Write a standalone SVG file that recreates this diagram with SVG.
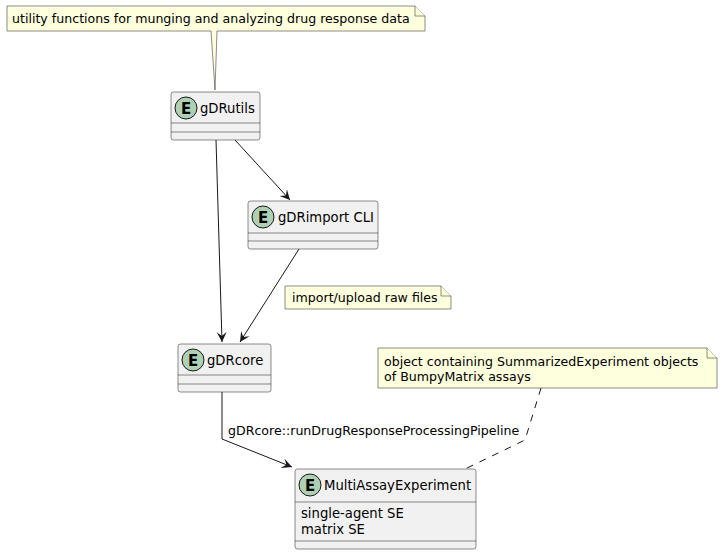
<svg xmlns="http://www.w3.org/2000/svg" width="723" height="555" viewBox="0 0 723 555">
<defs>
<style>
.cls{fill:#F1F1F1;stroke:#181818;stroke-width:0.5;}
.sep{stroke:#181818;stroke-width:0.5;}
.circ{fill:#ADD1B2;stroke:#181818;stroke-width:1;}
.e{font-family:"DejaVu Sans",sans-serif;font-size:15px;font-weight:bold;fill:#000;}
.name{font-family:"DejaVu Sans",sans-serif;font-size:13.2px;fill:#000;}
.note{fill:#FEFFDD;stroke:#181818;stroke-width:0.5;}
.nt{font-family:"DejaVu Sans",sans-serif;font-size:12.6px;fill:#000;}
.lbl{font-family:"DejaVu Sans",sans-serif;font-size:12.6px;fill:#000;}
.link{fill:none;stroke:#181818;stroke-width:1;}
.dash{fill:none;stroke:#181818;stroke-width:1;stroke-dasharray:7,7;}
</style>
<marker id="arr" viewBox="0 0 12 12" markerWidth="12" markerHeight="12" refX="10" refY="6" orient="auto" markerUnits="userSpaceOnUse">
<path d="M0,1 L10,6 L0,11 L4,6 Z" fill="#181818"/>
</marker>
</defs>

<g id="note-utils">
<path class="note" d="M7,6 L415,6 L425,16 L425,31 L217,31 L215,90 L211,31 L7,31 Z"/>
<path class="note" d="M415,6 L415,16 L425,16"/>
<text class="nt" x="12" y="23">utility functions for munging and analyzing drug response data</text>
</g>

<g id="connectors">
<line class="link" x1="216" y1="140" x2="222" y2="342" marker-end="url(#arr)"/>
<line class="link" x1="235" y1="140" x2="290" y2="200" marker-end="url(#arr)"/>
<line class="link" x1="299" y1="249" x2="240" y2="342" marker-end="url(#arr)"/>
<polyline class="link" points="222,392 222,439 292,467" marker-end="url(#arr)"/>
<text class="lbl" x="228" y="435">gDRcore::runDrugResponseProcessingPipeline</text>
<polyline class="dash" points="541,388 525,440 465,469"/>
</g>

<g id="gDRutils">
<rect class="cls" x="171" y="92" width="89" height="48" rx="2.5"/>
<line class="sep" x1="171" y1="123" x2="260" y2="123"/>
<line class="sep" x1="171" y1="132" x2="260" y2="132"/>
<circle class="circ" cx="186" cy="108" r="11"/>
<text class="e" x="186" y="113.5" text-anchor="middle">E</text>
<text class="name" x="200" y="113">gDRutils</text>
</g>

<g id="gDRimport">
<rect class="cls" x="248" y="201" width="130" height="48" rx="2.5"/>
<line class="sep" x1="248" y1="233" x2="378" y2="233"/>
<line class="sep" x1="248" y1="241" x2="378" y2="241"/>
<circle class="circ" cx="263" cy="217" r="11"/>
<text class="e" x="263" y="222.5" text-anchor="middle">E</text>
<text class="name" x="278" y="222">gDRimport CLI</text>
</g>

<g id="note-import">
<path class="note" d="M285,286 L441,286 L451,296 L451,309 L285,309 Z"/>
<path class="note" d="M441,286 L441,296 L451,296"/>
<text class="nt" x="292" y="302">import/upload raw files</text>
</g>

<g id="gDRcore">
<rect class="cls" x="178" y="344" width="93" height="48" rx="2.5"/>
<line class="sep" x1="178" y1="375" x2="271" y2="375"/>
<line class="sep" x1="178" y1="384" x2="271" y2="384"/>
<circle class="circ" cx="193" cy="360" r="11"/>
<text class="e" x="193" y="365.5" text-anchor="middle">E</text>
<text class="name" x="207" y="365">gDRcore</text>
</g>

<g id="note-mae">
<path class="note" d="M378,348 L707,348 L717,358 L717,388 L378,388 Z"/>
<path class="note" d="M707,348 L707,358 L717,358"/>
<text class="nt" x="384" y="366">object containing SummarizedExperiment objects</text>
<text class="nt" x="384" y="381">of BumpyMatrix assays</text>
</g>

<g id="MultiAssayExperiment">
<rect class="cls" x="295" y="469" width="181" height="80" rx="2.5"/>
<line class="sep" x1="295" y1="502" x2="476" y2="502"/>
<line class="sep" x1="295" y1="541" x2="476" y2="541"/>
<circle class="circ" cx="310" cy="485" r="11"/>
<text class="e" x="310" y="490.5" text-anchor="middle">E</text>
<text class="name" x="324" y="490">MultiAssayExperiment</text>
<text class="name" x="301" y="518">single-agent SE</text>
<text class="name" x="301" y="534">matrix SE</text>
</g>
</svg>
